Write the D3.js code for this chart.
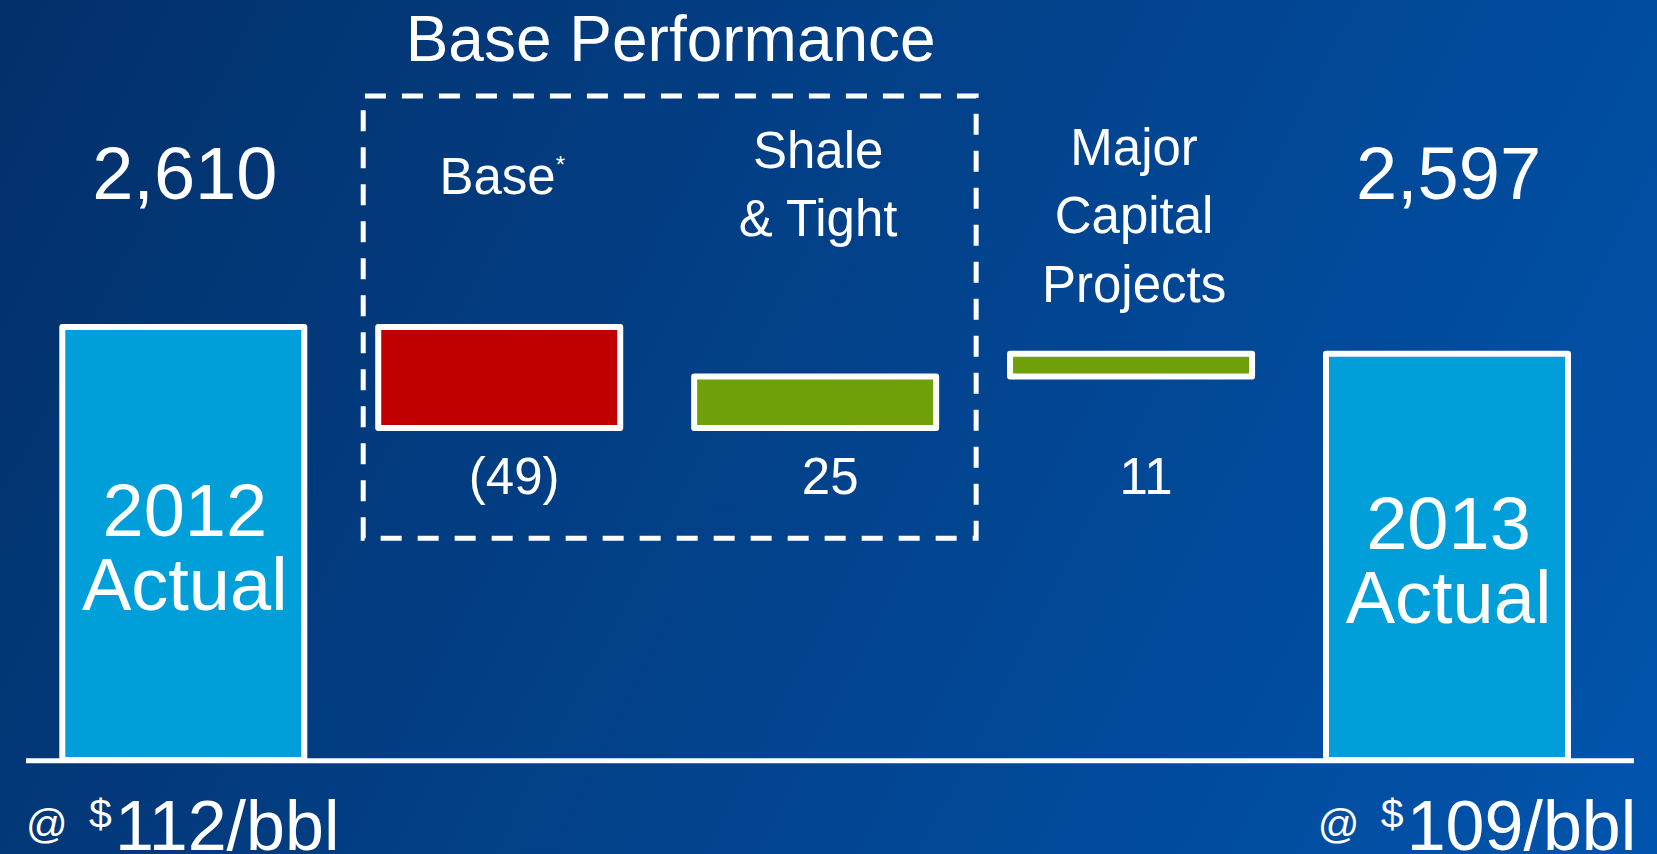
<!DOCTYPE html>
<html>
<head>
<meta charset="utf-8">
<script src="https://cdn.jsdelivr.net/npm/d3@7"></script>
<style>
  html, body { margin: 0; padding: 0; background: #033a7c; }
  svg { display: block; }
  text { font-family: "Liberation Sans", Arial, Helvetica, sans-serif; fill: #ffffff; }
</style>
</head>
<body>
<svg id="chart" width="1657" height="854"></svg>
<script>
// Production walk, 2012 to 2013 (thousand barrels of oil-equivalent per day)
const categories = ["2012 Actual", "Base", "Shale & Tight", "Major Capital Projects", "2013 Actual"];
const kinds      = ["total", "delta", "delta", "delta", "total"];
const values     = [2610, -49, 25, 11, 2597];
const valueLabels = ["2,610", "(49)", "25", "11", "2,597"];
const headerLines = [[], ["Base"], ["Shale", "& Tight"], ["Major", "Capital", "Projects"], []];
const insideLines = [["2012", "Actual"], [], [], [], ["2013", "Actual"]];
const priceLabels = [{ at: "@ ", cur: "$", amount: "112/bbl" }, { at: "@ ", cur: "$", amount: "109/bbl" }];
const groupTitle = "Base Performance";
const yDomain = [2400, 2610];

const colors = { total: "#009fd9", down: "#c00000", up: "#6fa00a" };

const W = 1657, H = 854;
const svg = d3.select("#chart");

// Diagonal blue backdrop
const defs = svg.append("defs");
const grad = defs.append("linearGradient")
  .attr("id", "bg").attr("gradientUnits", "userSpaceOnUse")
  .attr("x1", 0).attr("y1", 0).attr("x2", W).attr("y2", H);
grad.append("stop").attr("offset", 0).attr("stop-color", "#03306a");
grad.append("stop").attr("offset", 1).attr("stop-color", "#0154ad");
svg.append("rect").attr("width", W).attr("height", H).attr("fill", "url(#bg)");

// Running start/end of each step
let running = 0;
const steps = categories.map((c, i) => {
  let lo, hi, color;
  if (kinds[i] === "total") {
    lo = yDomain[0]; hi = values[i]; running = values[i]; color = colors.total;
  } else {
    const start = running, end = running + values[i];
    lo = Math.min(start, end); hi = Math.max(start, end);
    running = end; color = values[i] < 0 ? colors.down : colors.up;
  }
  return { c, i, lo, hi, color, kind: kinds[i] };
});

const x = d3.scaleBand().domain(categories).range([62.3, 1568]).paddingInner(0.234).paddingOuter(0);
const y = d3.scaleLinear().domain(yDomain).range([760, 327]);
const bw = x.bandwidth();

// Bars
svg.append("g").selectAll("rect").data(steps).join("rect")
  .attr("x", d => x(d.c))
  .attr("y", d => y(d.hi))
  .attr("width", bw)
  .attr("height", d => y(d.lo) - y(d.hi))
  .attr("fill", d => d.color)
  .attr("stroke", "#ffffff")
  .attr("stroke-width", 6)
  .attr("stroke-linejoin", "round");

// Baseline
svg.append("line")
  .attr("x1", 26).attr("x2", 1634)
  .attr("y1", 760.7).attr("y2", 760.7)
  .attr("stroke", "#ffffff").attr("stroke-width", 5);

// Dashed grouping frame around the base-performance steps
const bx0 = x(categories[1]) - 15, bx1 = x(categories[2]) + bw + 40;
const by0 = 96, by1 = 538.3;
svg.append("path")
  .attr("d", `M${bx0},${by1} V${by0} H${bx1} V${by1} Z`)
  .attr("fill", "none").attr("stroke", "#ffffff")
  .attr("stroke-width", 5).attr("stroke-dasharray", "21,16");

svg.append("text")
  .attr("x", (bx0 + bx1) / 2 + 1).attr("y", 61)
  .attr("text-anchor", "middle").attr("font-size", 64)
  .text(groupTitle);

// Totals above the end bars
steps.filter(d => d.kind === "total").forEach(d => {
  svg.append("text")
    .attr("x", x(d.c) + bw / 2 + 1.5).attr("y", 199)
    .attr("text-anchor", "middle").attr("font-size", 74)
    .text(valueLabels[d.i]);
  const mid = (y(d.hi) + y(d.lo)) / 2;
  insideLines[d.i].forEach((line, k) => {
    svg.append("text")
      .attr("x", x(d.c) + bw / 2 + 1.5).attr("y", mid - 7.5 + k * 74)
      .attr("text-anchor", "middle").attr("font-size", 74)
      .text(line);
  });
});

// Step headers and change labels
const headerTop = [0, 194, 168, 165, 0];
steps.filter(d => d.kind === "delta").forEach(d => {
  const cx = x(d.c) + bw / 2;
  headerLines[d.i].forEach((line, k) => {
    const t = svg.append("text")
      .attr("x", cx + 3).attr("y", headerTop[d.i] + k * 68.3)
      .attr("text-anchor", "middle").attr("font-size", 51)
      .text(line);
    if (d.i === 1) {
      t.append("tspan").attr("font-size", 24).attr("dy", -21).text("*");
    }
  });
  svg.append("text")
    .attr("x", cx + 15).attr("y", 494)
    .attr("text-anchor", "middle").attr("font-size", 51)
    .text(valueLabels[d.i]);
});

// Oil price assumptions under each end bar
const priceX = [26, 1317.7];
priceLabels.forEach((p, j) => {
  const t = svg.append("text").attr("y", 850);
  t.append("tspan").attr("x", priceX[j]).attr("y", 838).attr("font-size", 41).text(p.at);
  t.append("tspan").attr("x", priceX[j] + 63).attr("y", 828).attr("font-size", 41).text(p.cur);
  t.append("tspan").attr("x", priceX[j] + 89).attr("y", 850).attr("font-size", 70).text(p.amount);
});
</script>
</body>
</html>
